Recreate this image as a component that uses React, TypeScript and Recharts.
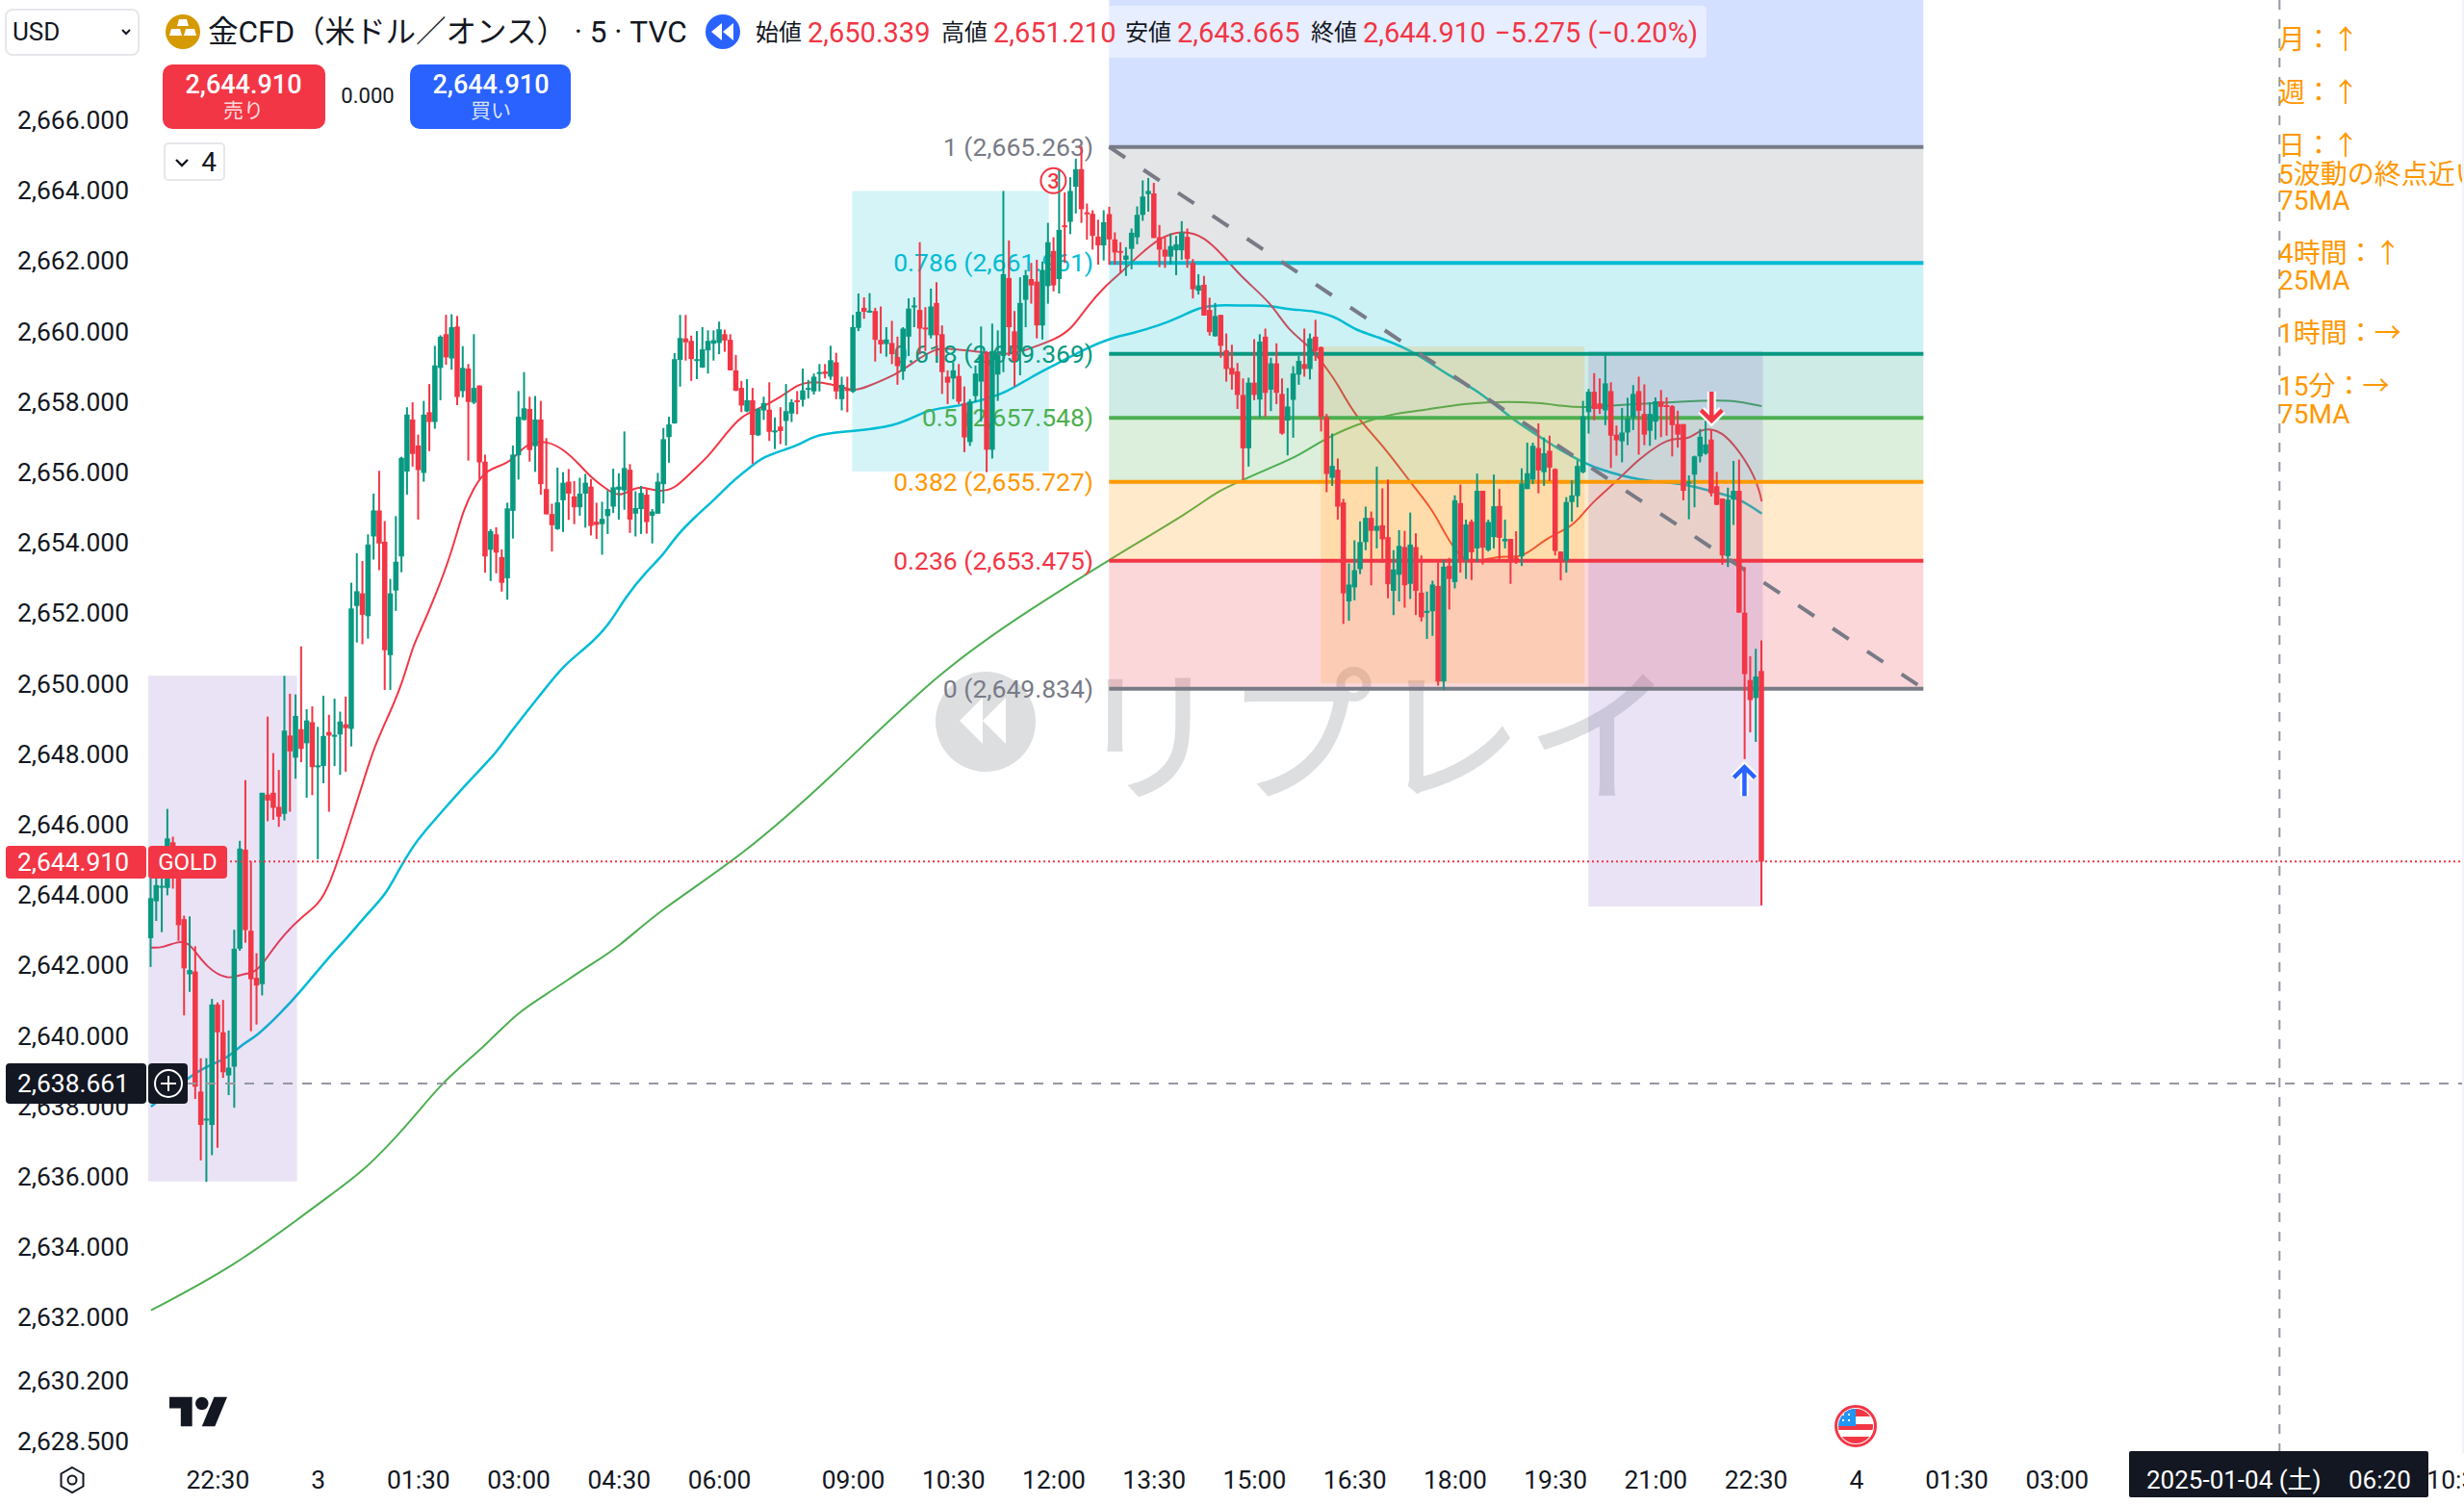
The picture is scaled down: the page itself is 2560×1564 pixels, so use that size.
import React from "react";
import {
  Bar,
  ComposedChart,
  Line,
  ReferenceArea,
  ReferenceDot,
  ReferenceLine,
  XAxis,
  YAxis,
} from "recharts";

const UP = "#089981";
const DOWN = "#F23645";
const INK = "#131722";
const FONT = 'Roboto, "Noto Sans CJK JP", sans-serif';

const opens = [
  2642.73, 2643.78, 2644.18, 2644.16, 2645.46, 2644.7, 2643.27, 2641.7, 2641.78, 2638.36,
  2637.55, 2637.41, 2640.84, 2640.05, 2638.82, 2639.07, 2642.43, 2645.25, 2642.94, 2641.6,
  2641.42, 2646.82, 2646.87, 2646.47, 2646.27, 2648.5, 2647.87, 2648.68, 2648.28, 2648.88,
  2647.6, 2647.63, 2648.6, 2648.5, 2648.53, 2648.82, 2648.69, 2652.19, 2652.55, 2651.9,
  2654.17, 2654.91, 2654.02, 2650.79, 2652.63, 2653.6, 2656.02, 2657.5, 2656.76, 2655.98,
  2657.71, 2657.43, 2658.97, 2659.93, 2659.24, 2660.15, 2658.31, 2658.95, 2657.98, 2658.47,
  2656.3, 2653.79, 2654.23, 2653.58, 2652.98, 2654.9, 2656.48, 2657.49, 2657.8, 2656.74,
  2657.5, 2655.52, 2654.81, 2654.38, 2655.2, 2655.73, 2655.31, 2655.0, 2655.39, 2655.59,
  2654.59, 2654.52, 2654.75, 2655.02, 2655.5, 2655.48, 2656.07, 2654.82, 2654.95, 2655.36,
  2654.76, 2654.82, 2655.66, 2657.0, 2657.39, 2659.2, 2659.81, 2659.74, 2659.2, 2658.98,
  2659.47, 2659.66, 2659.68, 2659.93, 2659.77, 2658.9, 2658.4, 2657.73, 2658.05, 2657.05,
  2657.76, 2657.78, 2657.17, 2657.3, 2657.46, 2657.67, 2658.05, 2658.06, 2658.38, 2658.3,
  2658.8, 2658.87, 2658.72, 2659.13, 2658.08, 2658.37, 2658.29, 2660.11, 2660.68, 2660.58,
  2660.59, 2659.77, 2659.65, 2659.68, 2659.28, 2658.87, 2659.86, 2660.73, 2660.62, 2660.12,
  2659.9, 2660.82, 2659.93, 2658.72, 2658.67, 2658.74, 2657.96, 2656.86, 2658.17, 2658.58,
  2659.4, 2656.64, 2658.78, 2659.31, 2661.53, 2660.01, 2659.45, 2660.91, 2661.5, 2661.43,
  2660.18, 2661.3, 2662.3, 2661.5, 2663.03, 2663.13, 2664.13, 2664.63, 2663.4, 2663.36,
  2662.71, 2662.46, 2663.35, 2662.63, 2662.3, 2662.05, 2662.36, 2662.69, 2663.33, 2663.92,
  2663.94, 2662.69, 2662.34, 2662.14, 2662.32, 2662.32, 2662.7, 2661.96, 2661.17, 2661.34,
  2660.62, 2659.87, 2660.48, 2659.47, 2658.97, 2658.87, 2658.2, 2656.68, 2658.55, 2658.07,
  2659.86, 2658.35, 2659.1, 2658.23, 2657.47, 2658.06, 2658.78, 2659.08, 2658.94, 2659.86,
  2659.56, 2657.57, 2655.84, 2656.07, 2655.14, 2652.32, 2652.72, 2653.24, 2654.01, 2654.7,
  2654.33, 2654.49, 2654.15, 2652.62, 2653.08, 2653.87, 2652.82, 2653.87, 2652.57, 2652.03,
  2652.04, 2652.76, 2650.04, 2653.33, 2652.87, 2655.12, 2653.51, 2654.59, 2653.83, 2655.47,
  2653.78, 2654.15, 2655.04, 2654.03, 2654.1, 2653.57, 2653.6, 2655.52, 2655.79, 2656.69,
  2656.0, 2656.61, 2656.09, 2653.74, 2653.48, 2655.15, 2655.32, 2656.0, 2657.71, 2658.29,
  2657.96, 2657.76, 2658.31, 2657.07, 2656.88, 2657.13, 2657.56, 2658.31, 2657.66, 2657.18,
  2657.44, 2658.02, 2657.91, 2657.88, 2657.37, 2657.37, 2655.71, 2655.93, 2656.45, 2656.53,
  2656.93, 2655.6, 2655.25, 2653.61, 2655.22, 2655.47, 2652.0, 2650.08, 2649.57, 2650.339,
];

const highs = [
  2644.6, 2644.6, 2645.2, 2646.41, 2645.62, 2644.9, 2643.37, 2643.35, 2642.5, 2639.31,
  2639.31, 2641, 2640.9, 2640.97, 2640.1, 2642.97, 2645.5, 2647.23, 2644.92, 2642.3,
  2646.87, 2649.04, 2648, 2647.52, 2650.2, 2649.69, 2649.67, 2651.04, 2649.25, 2649.33,
  2648.75, 2649.63, 2649.09, 2649.55, 2649.18, 2649.61, 2652.85, 2653.69, 2653.47, 2654.23,
  2655.39, 2656.04, 2654.61, 2652.96, 2654.75, 2656.44, 2657.85, 2657.99, 2657.07, 2658.03,
  2658.51, 2659.6, 2659.9, 2660.48, 2660.5, 2660.45, 2659.59, 2659.08, 2659.93, 2658.47,
  2656.5, 2654.38, 2654.43, 2653.8, 2655.13, 2656.76, 2658.31, 2658.85, 2658.15, 2658.17,
  2658.03, 2656.97, 2655.1, 2656.13, 2656, 2656.09, 2655.75, 2655.84, 2655.95, 2655.8,
  2655.13, 2655.16, 2655.48, 2656.1, 2655.97, 2657.16, 2656.23, 2655.46, 2655.61, 2655.52,
  2654.95, 2655.98, 2657.26, 2657.58, 2659.39, 2660.48, 2660.48, 2659.89, 2660.02, 2660.13,
  2660.04, 2660.04, 2660.29, 2660.06, 2659.93, 2659.34, 2658.6, 2658.65, 2658.4, 2657.83,
  2658.15, 2658.56, 2657.56, 2657.85, 2658.51, 2658.08, 2658.31, 2658.95, 2658.63, 2658.81,
  2659.08, 2659.08, 2659.6, 2659.4, 2658.72, 2658.72, 2660.48, 2661.09, 2660.98, 2661.1,
  2660.68, 2660.72, 2660.13, 2660.31, 2659.86, 2660.13, 2660.95, 2660.98, 2662.55, 2660.7,
  2661.23, 2661.41, 2660.18, 2658.9, 2659.13, 2659.08, 2658.44, 2658.08, 2659.04, 2660.15,
  2659.45, 2660.23, 2660.04, 2664.01, 2662.6, 2660.59, 2661.55, 2661.76, 2661.96, 2662.05,
  2662, 2663.1, 2662.69, 2664.6, 2663.97, 2664.4, 2664.93, 2665.29, 2663.65, 2663.46,
  2663.19, 2663.46, 2663.56, 2662.83, 2662.55, 2662.41, 2662.94, 2663.57, 2664.31, 2664.38,
  2664.24, 2663.04, 2662.69, 2662.8, 2662.73, 2663.15, 2662.94, 2662.07, 2661.64, 2661.59,
  2660.97, 2660.82, 2660.48, 2659.95, 2659.63, 2659.11, 2658.67, 2658.69, 2659.79, 2659.93,
  2660.09, 2659.26, 2659.67, 2658.67, 2658.4, 2659.02, 2659.31, 2660.09, 2659.95, 2660.34,
  2659.58, 2657.66, 2657.1, 2656.39, 2655.24, 2653.4, 2654.06, 2654.6, 2655.02, 2654.88,
  2656.16, 2655.54, 2655.79, 2653.78, 2654.35, 2654.33, 2654.85, 2654.26, 2653.63, 2652.6,
  2652.91, 2653.42, 2653.51, 2653.56, 2655.34, 2655.65, 2654.65, 2654.65, 2655.96, 2655.47,
  2654.65, 2655.93, 2655.52, 2654.65, 2654.1, 2654.32, 2656.11, 2656.84, 2656.84, 2657.39,
  2656.99, 2657.04, 2656.11, 2653.74, 2655.29, 2655.77, 2656.34, 2658.03, 2658.37, 2658.82,
  2658.67, 2659.33, 2658.56, 2657.33, 2657.83, 2658.12, 2658.48, 2658.72, 2658.5, 2657.99,
  2658.13, 2658.34, 2658.13, 2657.91, 2657.75, 2657.37, 2655.91, 2656.47, 2657.23, 2657.47,
  2657.2, 2656.01, 2655.25, 2655.56, 2656.32, 2656.36, 2653.3, 2650.76, 2650.97, 2651.21,
];

const lows = [
  2641.91, 2643.22, 2642.9, 2643.95, 2644.14, 2642.65, 2640.53, 2641.2, 2638.15, 2636.4,
  2635.79, 2636.55, 2636.76, 2638.75, 2638.26, 2637.9, 2642.37, 2642.6, 2640.08, 2640.27,
  2641.1, 2646.06, 2646.1, 2645.9, 2646.08, 2646.33, 2647.27, 2647.74, 2646.73, 2646.8,
  2644.98, 2647.14, 2646.33, 2647.63, 2647.38, 2647.47, 2648.19, 2651.15, 2651.1, 2651.26,
  2653.51, 2653.21, 2649.8, 2649.8, 2652.05, 2653.15, 2655.36, 2656.16, 2654.65, 2655.73,
  2656.6, 2657.24, 2658.05, 2659.06, 2658.92, 2657.91, 2658.13, 2656.33, 2657.94, 2655.8,
  2653.14, 2652.9, 2653.12, 2652.6, 2652.37, 2654.11, 2655.79, 2657.47, 2656.3, 2656.01,
  2655.36, 2654.8, 2653.74, 2654.36, 2654.3, 2654.64, 2654.52, 2654.76, 2654.42, 2654.2,
  2654.1, 2653.65, 2654.24, 2654.84, 2654.65, 2654.93, 2654.27, 2654.17, 2654.24, 2654.25,
  2653.97, 2654.82, 2655.11, 2656.27, 2657.38, 2658.44, 2659.18, 2658.6, 2658.65, 2658.97,
  2658.81, 2659.18, 2659.36, 2659.43, 2658.9, 2658.31, 2657.71, 2657.71, 2656.24, 2657.03,
  2657.49, 2656.89, 2656.66, 2656.8, 2656.76, 2657.43, 2657.65, 2657.87, 2658.1, 2658.21,
  2658.3, 2658.67, 2658.63, 2658.08, 2657.76, 2657.71, 2658.26, 2660.02, 2660.37, 2660.54,
  2659.15, 2659.38, 2659.29, 2659.08, 2658.49, 2658.63, 2659.31, 2660.13, 2659.36, 2659.45,
  2659.81, 2659.31, 2658.23, 2657.94, 2658.08, 2657.94, 2656.57, 2656.75, 2657.99, 2657.44,
  2656, 2656.39, 2658.03, 2658.85, 2659.31, 2658.44, 2658.76, 2660.13, 2660.8, 2659.81,
  2659.78, 2660.8, 2661.15, 2661.09, 2661.96, 2662.78, 2663.37, 2663.1, 2662.62, 2662.34,
  2661.91, 2662.03, 2661.91, 2661.91, 2661.68, 2661.59, 2661.78, 2662.49, 2663.16, 2663.42,
  2662.67, 2661.84, 2661.82, 2661.91, 2661.61, 2662.05, 2661.82, 2660.95, 2661.06, 2660.46,
  2659.89, 2659.86, 2659.26, 2658.58, 2658.35, 2657.8, 2655.79, 2656.16, 2658.05, 2657.56,
  2657.58, 2657.74, 2657.94, 2657.07, 2656.48, 2656.98, 2658.49, 2658.72, 2658.64, 2659.17,
  2657.16, 2655.43, 2655.61, 2654.65, 2651.68, 2651.77, 2652.35, 2653.1, 2653.78, 2652.78,
  2653.83, 2653.42, 2652.41, 2651.93, 2652.32, 2652.14, 2652.39, 2651.93, 2651.75, 2651.25,
  2651.34, 2649.92, 2649.8, 2652.09, 2652.69, 2653.14, 2652.96, 2652.93, 2653.44, 2653.37,
  2653.74, 2653.83, 2653.51, 2653.83, 2652.82, 2653.39, 2653.33, 2655.52, 2655.66, 2655.4,
  2655.61, 2655.75, 2653.63, 2652.92, 2653.14, 2654.59, 2655, 2655.97, 2657.1, 2657.48,
  2657.66, 2657.34, 2656.12, 2656.47, 2656.28, 2656.77, 2657.2, 2656.5, 2656.77, 2656.75,
  2656.93, 2657, 2657.04, 2656.45, 2656.7, 2655.2, 2654.66, 2655, 2656.28, 2656.5,
  2655.31, 2655.06, 2653.36, 2653.3, 2654.5, 2652, 2647.83, 2648.59, 2648.32, 2643.665,
];

const closes = [
  2643.87, 2644.24, 2644.22, 2645.57, 2644.7, 2643.1, 2641.87, 2641.82, 2638.5, 2637.41,
  2637.59, 2640.84, 2640.05, 2638.91, 2639.04, 2642.43, 2645.28, 2642.96, 2641.56, 2641.38,
  2646.87, 2646.65, 2646.44, 2646.19, 2648.64, 2648.05, 2649.06, 2648.12, 2648.93, 2647.6,
  2647.65, 2648.49, 2648.5, 2648.52, 2648.9, 2648.71, 2652.12, 2652.61, 2651.94, 2653.94,
  2654.91, 2653.97, 2650.93, 2652.55, 2653.45, 2656.41, 2657.64, 2656.52, 2656.06, 2657.64,
  2657.43, 2659.04, 2659.86, 2659.27, 2660.13, 2658.14, 2658.97, 2658, 2658.4, 2656.28,
  2653.6, 2654.32, 2653.71, 2652.85, 2654.97, 2656.5, 2657.58, 2657.82, 2656.63, 2657.5,
  2655.66, 2654.8, 2654.49, 2655.14, 2655.7, 2655.39, 2655, 2655.39, 2655.7, 2654.47,
  2654.5, 2654.67, 2654.95, 2655.57, 2655.59, 2656.12, 2654.65, 2654.98, 2655.41, 2654.58,
  2654.88, 2655.73, 2656.94, 2657.36, 2659.22, 2659.82, 2659.7, 2659.22, 2659.22, 2659.5,
  2659.74, 2659.76, 2660.07, 2659.75, 2658.9, 2658.32, 2657.9, 2658.05, 2657.06, 2657.8,
  2657.97, 2657.15, 2657.19, 2657.17, 2657.74, 2657.99, 2658, 2658.33, 2658.4, 2658.72,
  2658.85, 2658.8, 2659.19, 2658.3, 2658.49, 2658.35, 2660.13, 2660.57, 2660.57, 2660.6,
  2659.77, 2659.64, 2659.78, 2659.36, 2659.02, 2660.09, 2660.66, 2660.75, 2660.09, 2660.1,
  2660.72, 2659.9, 2658.85, 2658.55, 2658.9, 2658.01, 2656.99, 2658.01, 2658.81, 2659.35,
  2656.64, 2659.45, 2659.35, 2661.64, 2660.13, 2659.17, 2660.82, 2661.61, 2661.32, 2660.18,
  2661.76, 2662.55, 2661.32, 2662.9, 2662.98, 2664.01, 2664.63, 2663.49, 2663.36, 2662.73,
  2662.46, 2663.12, 2662.63, 2662.26, 2662.26, 2662.17, 2662.82, 2663.33, 2663.85, 2664.01,
  2662.67, 2662.34, 2662.14, 2662.44, 2662.49, 2662.82, 2662.07, 2661.21, 2661.32, 2660.46,
  2659.99, 2660.45, 2659.6, 2658.94, 2658.78, 2658.2, 2656.68, 2658.55, 2658.2, 2659.72,
  2658.26, 2659.1, 2658.26, 2657.1, 2657.87, 2658.81, 2659.17, 2658.94, 2659.81, 2659.45,
  2657.58, 2655.95, 2656.18, 2655.02, 2652.55, 2652.8, 2653.21, 2654.01, 2654.7, 2654.33,
  2654.47, 2654.09, 2652.81, 2653.23, 2653.9, 2652.78, 2653.94, 2652.62, 2651.87, 2652.05,
  2652.8, 2650.04, 2653.31, 2652.96, 2655.2, 2653.51, 2654.51, 2653.72, 2655.47, 2653.85,
  2654.58, 2655.03, 2654.13, 2654.1, 2653.51, 2653.51, 2655.68, 2655.97, 2656.75, 2656.05,
  2656.54, 2656.13, 2653.76, 2653.48, 2655.15, 2655.34, 2656.18, 2657.59, 2658.29, 2657.8,
  2657.8, 2658.53, 2657.04, 2656.91, 2657.13, 2657.53, 2658.23, 2657.75, 2657.07, 2657.66,
  2658.02, 2657.86, 2657.86, 2657.34, 2657.07, 2655.47, 2655.73, 2656.45, 2657.01, 2656.79,
  2655.4, 2655.07, 2653.63, 2655.22, 2655.47, 2652, 2650.25, 2649.51, 2650.18, 2644.91,
];

const maRed = [
  [0, 2642.46], [2, 2642.45], [5, 2642.65], [7, 2642.6], [10, 2641.86], [14, 2641.54], [16, 2641.7], [19, 2641.75],
  [21, 2642.23], [24, 2642.86], [27, 2643.33], [30, 2643.68], [32, 2644.22], [35, 2645.63], [38, 2647.14], [40, 2648.17],
  [43, 2649.2], [45, 2649.96], [47, 2651.04], [48, 2651.37], [51, 2652.46], [54, 2653.74], [56, 2654.93], [58, 2655.57],
  [60, 2656.07], [64, 2656.23], [66, 2656.57], [68, 2656.85], [71, 2656.89], [74, 2656.66], [77, 2656.2], [79, 2655.84],
  [82, 2655.48], [84, 2655.31], [86, 2655.48], [88, 2655.61], [91, 2655.43], [94, 2655.52], [97, 2656.02], [100, 2656.44],
  [103, 2657.07], [106, 2657.62], [109, 2657.8], [113, 2658.14], [116, 2658.49], [118, 2658.58], [122, 2658.53], [126, 2658.3],
  [128, 2658.4], [134, 2658.81], [136, 2659.04], [141, 2659.58], [144, 2659.49], [147, 2659.47], [152, 2659.35], [155, 2659.38],
  [158, 2659.54], [162, 2659.77], [165, 2660.04], [168, 2660.73], [171, 2661.27], [174, 2661.68], [177, 2662.14], [181, 2662.69],
  [185, 2662.89], [189, 2662.73], [193, 2662.05], [196, 2661.5], [201, 2660.82], [204, 2660.04], [208, 2659.58], [211, 2658.94],
  [213, 2658.49], [216, 2657.6], [221, 2656.78], [226, 2655.7], [230, 2654.92], [232, 2654.29], [234, 2653.78], [236, 2653.46],
  [239, 2653.48], [242, 2653.62], [245, 2653.57], [247, 2653.69], [250, 2654.06], [252, 2654.24], [255, 2654.47], [257, 2654.83],
  [259, 2655.2], [263, 2655.74], [267, 2656.39], [271, 2656.83], [273, 2656.97], [276, 2656.93], [278, 2657.23], [281, 2657.23],
  [284, 2656.83], [288, 2655.85], [289, 2655.17],
];

const maCyan = [
  [0, 2637.93], [8, 2638.91], [10, 2639.07], [14, 2639.34], [16, 2639.67], [19, 2639.94], [23, 2640.55], [27, 2641.24],
  [32, 2642.21], [35, 2642.7], [39, 2643.46], [42, 2643.95], [44, 2644.54], [47, 2645.36], [49, 2645.75], [52, 2646.3],
  [57, 2647.2], [62, 2648.01], [64, 2648.5], [70, 2649.69], [74, 2650.5], [78, 2650.99], [82, 2651.6], [85, 2652.42],
  [89, 2653.2], [92, 2653.65], [94, 2654.15], [98, 2654.79], [101, 2655.2], [104, 2655.7], [108, 2656.21], [110, 2656.44],
  [114, 2656.66], [116, 2656.76], [119, 2657.04], [123, 2657.14], [134, 2657.28], [139, 2657.79], [144, 2657.85], [149, 2658.05],
  [153, 2658.23], [158, 2658.72], [162, 2659.04], [168, 2659.54], [172, 2659.81], [176, 2659.95], [181, 2660.18], [185, 2660.45],
  [188, 2660.68], [191, 2660.77], [197, 2660.74], [201, 2660.75], [204, 2660.63], [209, 2660.6], [213, 2660.4], [216, 2660.04],
  [221, 2659.81], [227, 2659.4], [233, 2658.72], [238, 2658.35], [244, 2657.53], [249, 2657.03], [253, 2656.61], [257, 2656.28],
  [260, 2656.07], [267, 2655.76], [274, 2655.69], [277, 2655.58], [281, 2655.42], [285, 2655.25], [289, 2654.82],
];

const maGreen = [
  [0, 2632.13], [15, 2633.39], [28, 2634.92], [32, 2635.39], [38, 2636.09], [43, 2636.9], [47, 2637.6], [52, 2638.58],
  [58, 2639.4], [62, 2640.0], [66, 2640.64], [72, 2641.24], [78, 2641.89], [84, 2642.48], [91, 2643.5], [106, 2645.06],
  [122, 2647.3], [142, 2650.43], [159, 2652.22], [172, 2653.52], [187, 2654.93], [191, 2655.43], [196, 2655.79], [202, 2656.2],
  [206, 2656.48], [210, 2656.89], [214, 2657.21], [219, 2657.5], [223, 2657.67], [229, 2657.78], [235, 2657.94], [240, 2657.99],
  [243, 2658.01], [249, 2657.98], [253, 2657.89], [257, 2657.83], [263, 2657.91], [271, 2657.98], [276, 2658.02], [281, 2658.05],
  [285, 2658.02], [289, 2657.88],
];

const priceTicks = [
  2666, 2664, 2662, 2660, 2658, 2656, 2654, 2652, 2650, 2648, 2646, 2644, 2642, 2640, 2638, 2636, 2634, 2632, 2630.2, 2628.5,
];
const timeTickBars = [12, 30, 48, 66, 84, 102, 126, 144, 162, 180, 198, 216, 234, 252, 270, 288, 306, 324, 342, 414];
const timeTickLabels = [
  "22:30", "3", "01:30", "03:00", "04:30", "06:00", "09:00", "10:30", "12:00", "13:30",
  "15:00", "16:30", "18:00", "19:30", "21:00", "22:30", "4", "01:30", "03:00", "10:30",
];

const fibLevels = [
  { label: "1 (2,665.263)", price: 2665.263, color: "#787B86" },
  { label: "0.786 (2,661.961)", price: 2661.961, color: "#00BCD4" },
  { label: "0.618 (2,659.369)", price: 2659.369, color: "#089981" },
  { label: "0.5 (2,657.548)", price: 2657.548, color: "#4CAF50" },
  { label: "0.382 (2,655.727)", price: 2655.727, color: "#FF9800" },
  { label: "0.236 (2,653.475)", price: 2653.475, color: "#F23645" },
  { label: "0 (2,649.834)", price: 2649.834, color: "#787B86" },
];
const fibFrom = 171.9;
const fibTo = 318;
const fibAbove = 2669.448;

const boxes = [
  { x1: -0.5, x2: 26.2, y1: 2650.2, y2: 2635.8, fill: "#7E57C2" },
  { x1: 125.8, x2: 161.1, y1: 2664.01, y2: 2656.02, fill: "#00BCD4" },
  { x1: 209.9, x2: 257.2, y1: 2659.58, y2: 2649.98, fill: "#FF9800" },
  { x1: 257.9, x2: 289.2, y1: 2659.45, y2: 2643.63, fill: "#7E57C2" },
];

const lastPrice = 2644.91;
const crossPrice = 2638.59;
const crossBar = 381.9;

const noteLines = [
  { text: "月：↑", y: 42 },
  { text: "週：↑", y: 97 },
  { text: "日：↑", y: 152 },
  { text: "5波動の終点近い", y: 182 },
  { text: "75MA", y: 209 },
  { text: "4時間：↑", y: 264 },
  { text: "25MA", y: 292 },
  { text: "1時間：→", y: 347 },
  { text: "15分：→", y: 402 },
  { text: "75MA", y: 431 },
];

const ohlcText = [
  { text: "始値", x: 785, color: INK, size: 24 },
  { text: "2,650.339", x: 839, color: DOWN, size: 29 },
  { text: "高値", x: 978, color: INK, size: 24 },
  { text: "2,651.210", x: 1032, color: DOWN, size: 29 },
  { text: "安値", x: 1169, color: INK, size: 24 },
  { text: "2,643.665", x: 1223, color: DOWN, size: 29 },
  { text: "終値", x: 1362, color: INK, size: 24 },
  { text: "2,644.910", x: 1416, color: DOWN, size: 29 },
  { text: "−5.275 (−0.20%)", x: 1553, color: DOWN, size: 29 },
];

const rows = opens.map((open, i) => ({
  i,
  open,
  high: highs[i],
  low: lows[i],
  close: closes[i],
  range: [lows[i], highs[i]],
  red: null as number | null,
  cyan: null as number | null,
  green: null as number | null,
}));
maRed.forEach(([i, v]) => (rows[i].red = v));
maCyan.forEach(([i, v]) => (rows[i].cyan = v));
maGreen.forEach(([i, v]) => (rows[i].green = v));

const Candle = (props: any) => {
  const { x, y, width, height, payload } = props;
  const { open, high, low, close } = payload;
  const perUnit = height / Math.max(high - low, 0.001);
  const top = y + (high - Math.max(open, close)) * perUnit;
  const bodyH = Math.max(Math.abs(close - open) * perUnit, 2);
  const color = close >= open ? UP : DOWN;
  const cx = x + width / 2;
  return (
    <g>
      <rect x={cx - 1} y={y} width={2} height={Math.max(height, 2)} fill={color} />
      <rect x={cx - 2.75} y={top} width={5.5} height={bodyH} fill={color} />
    </g>
  );
};

const PriceTick = ({ y, payload }: any) => (
  // the printed scale runs a hair wider than the one the bars were read on
  <text x={18} y={y + 10 + (2649.8 - payload.value) * 0.115} fontSize={26.4} fontFamily={FONT} fill={INK}>
    {payload.value.toLocaleString("en-US", { minimumFractionDigits: 3, maximumFractionDigits: 3 })}
  </text>
);

const TimeTick = ({ x, y, payload }: any) => (
  <text x={x} y={y + 29} fontSize={26.4} textAnchor="middle" fontFamily={FONT} fill={INK}>
    {timeTickLabels[timeTickBars.indexOf(payload.value)]}
  </text>
);

const FibLabel = ({ cx, cy, text, color }: any) => (
  <text x={cx} y={cy + 9} fontSize={26.5} textAnchor="end" fontFamily={FONT} fill={color}>
    {text}
  </text>
);

const WaveMark = ({ cx, cy }: any) => (
  <g>
    <circle cx={cx} cy={cy} r={13} fill="none" stroke={DOWN} strokeWidth={2} />
    <text x={cx} y={cy + 8} fontSize={22} fontWeight={500} textAnchor="middle" fontFamily={FONT} fill={DOWN}>
      3
    </text>
  </g>
);

const Arrow = ({ cx, cy, up, color }: any) => {
  const s = up ? -1 : 1;
  const d = `M${cx} ${cy + 15 * s} L${cx} ${cy - 15 * s} M${cx - 11} ${cy + 4 * s} L${cx} ${cy + 15 * s} L${cx + 11} ${cy + 4 * s}`;
  return (
    <g fill="none">
      <path d={d} stroke="#fff" strokeWidth={9} />
      <path d={d} stroke={color} strokeWidth={4.5} />
    </g>
  );
};

const Txt = ({ x, y, size = 26, color = INK, children, weight = 400, anchor }: any) => (
  <div
    style={{
      position: "absolute",
      left: anchor === "middle" ? x - 300 : x,
      width: anchor === "middle" ? 600 : undefined,
      top: y - size,
      height: size * 2,
      lineHeight: `${size * 2}px`,
      fontSize: size,
      fontWeight: weight,
      color,
      whiteSpace: "nowrap",
      textAlign: anchor === "middle" ? "center" : "left",
    }}
  >
    {children}
  </div>
);

const Box = ({ x, y, w, h, bg, radius = 8, border }: any) => (
  <div
    style={{
      position: "absolute",
      left: x,
      top: y,
      width: w,
      height: h,
      background: bg,
      borderRadius: radius,
      border,
      boxSizing: "border-box",
    }}
  />
);

const Icons = () => (
  <svg width={2560} height={1564} style={{ position: "absolute", left: 0, top: 0, pointerEvents: "none" }}>
    {/* dropdown chevrons */}
    <path d="M127 31l4 4 4-4" fill="none" stroke={INK} strokeWidth={2} />
    <path d="M183 166l6 6 6-6" fill="none" stroke={INK} strokeWidth={2.4} />
    {/* gold symbol */}
    <circle cx={190} cy={33} r={18} fill="#D49A00" />
    <path d="M186 20h8l2 7h-12zM176 37l2-7h9l2 7zM191 37l2-7h9l2 7z" fill="#fff" />
    {/* replay badge */}
    <circle cx={751} cy={33} r={18} fill="#2962FF" />
    <path d="M750 24v18l-11-9zM762 24v18l-11-9z" fill="#fff" />
    {/* crosshair plus */}
    <circle cx={175} cy={1126} r={14} fill="none" stroke="#fff" strokeWidth={2} />
    <path d="M175 1118v16M167 1126h16" stroke="#fff" strokeWidth={2} />
    {/* TradingView logo */}
    <g transform="translate(176 1445) scale(1.69)" fill="#131722">
      <path d="M14 22H7V11H0V4h14v18zM28 22h-8l7.5-18h8L28 22z" />
      <circle cx={20} cy={8} r={4} />
    </g>
    {/* settings */}
    <path d="M75 1525l11.5 6.5v13L75 1551l-11.5-6.5v-13z" fill="none" stroke={INK} strokeWidth={2} />
    <circle cx={75} cy={1538} r={4.5} fill="none" stroke={INK} strokeWidth={2} />
    {/* economic event flag */}
    <defs>
      <clipPath id="flag">
        <circle cx={1928} cy={1482} r={18} />
      </clipPath>
    </defs>
    <circle cx={1928} cy={1482} r={20.5} fill="#fff" stroke={DOWN} strokeWidth={3} />
    <g clipPath="url(#flag)">
      <rect x={1908} y={1464} width={40} height={8} fill={DOWN} />
      <rect x={1908} y={1480} width={40} height={6} fill={DOWN} />
      <rect x={1908} y={1493} width={40} height={10} fill={DOWN} />
      <rect x={1908} y={1464} width={20} height={18} fill="#2196F3" />
      <path d="M1914 1470h2M1920 1470h2M1914 1476h2M1920 1476h2" stroke="#fff" strokeWidth={2} />
    </g>
  </svg>
);

export default function App() {
  return (
    <div
      style={{
        position: "absolute",
        left: 0,
        top: 0,
        width: 2560,
        height: 1564,
        overflow: "hidden",
        background: "#fff",
        fontFamily: FONT,
      }}
    >
      {/* replay watermark sits behind the chart */}
      <svg width={2560} height={1564} style={{ position: "absolute", left: 0, top: 0 }}>
        <circle cx={1024} cy={750} r={52} fill="#DCDEE0" />
        <path d="M1021 725v48l-24-24zM1045 725v48l-24-24z" fill="#fff" />
      </svg>
      <div
        style={{
          position: "absolute",
          left: 1118,
          top: 640,
          fontSize: 152,
          fontWeight: 400,
          letterSpacing: 4,
          lineHeight: "230px",
          color: "#DCDEE0",
          WebkitTextStroke: "2px #DCDEE0",
          fontFamily: '"Noto Sans CJK JP", sans-serif',
          whiteSpace: "nowrap",
        }}
      >
        リプレイ
      </div>

      <div style={{ position: "absolute", left: 0, top: 0 }}>
        <ComposedChart width={2560} height={1564} data={rows} margin={{ top: 0, right: 0, bottom: 0, left: 0 }}>
          <XAxis
            dataKey="i"
            type="number"
            domain={[-0.5, 415]}
            ticks={timeTickBars}
            interval={0}
            allowDataOverflow
            axisLine={false}
            tickLine={false}
            height={54}
            tick={<TimeTick />}
          />
          <YAxis
            type="number"
            domain={[2628.066, 2669.448]}
            ticks={priceTicks}
            interval={0}
            allowDataOverflow
            axisLine={false}
            tickLine={false}
            width={154}
            tick={<PriceTick />}
          />

          <Line zIndex={10} dataKey="green" type="basis" connectNulls stroke="#4CAF50" strokeWidth={2} dot={false} isAnimationActive={false} />
          <Line zIndex={10} dataKey="cyan" type="basis" connectNulls stroke="#00BCD4" strokeWidth={2.5} dot={false} isAnimationActive={false} />
          <Line zIndex={10} dataKey="red" type="basis" connectNulls stroke={DOWN} strokeWidth={2} dot={false} isAnimationActive={false} />

          <ReferenceArea zIndex={20} x1={fibFrom} x2={fibTo} y1={fibLevels[0].price} y2={fibAbove} fill="#2962FF" fillOpacity={0.2} stroke="none" ifOverflow="visible" />
          {fibLevels.slice(0, -1).map((lvl, k) => (
            <ReferenceArea
              key={lvl.label}
              zIndex={20}
              x1={fibFrom}
              x2={fibTo}
              y1={lvl.price}
              y2={fibLevels[k + 1].price}
              fill={lvl.color}
              fillOpacity={0.2}
              stroke="none"
              ifOverflow="visible"
            />
          ))}
          {boxes.map((b) => (
            <ReferenceArea key={b.x1} zIndex={21} x1={b.x1} x2={b.x2} y1={b.y1} y2={b.y2} fill={b.fill} fillOpacity={0.17} stroke="none" ifOverflow="visible" />
          ))}

          {fibLevels.map((lvl) => (
            <ReferenceDot
              key={`label-${lvl.label}`}
              zIndex={22}
              x={169.1}
              y={lvl.price}
              ifOverflow="visible"
              shape={<FibLabel text={lvl.label} color={lvl.color} />}
            />
          ))}
          {fibLevels.map((lvl) => (
            <ReferenceLine
              key={`line-${lvl.label}`}
              zIndex={23}
              segment={[{ x: fibFrom, y: lvl.price }, { x: fibTo, y: lvl.price }]}
              stroke={lvl.color}
              strokeWidth={4}
              ifOverflow="visible"
            />
          ))}
          <ReferenceLine
            zIndex={23}
            segment={[{ x: fibFrom, y: 2665.263 }, { x: fibTo, y: 2649.834 }]}
            stroke="#787B86"
            strokeWidth={4}
            strokeDasharray="20 23"
            ifOverflow="visible"
          />

          <Bar zIndex={30} dataKey="range" barSize={5} shape={<Candle />} isAnimationActive={false} />

          <ReferenceLine zIndex={40} y={lastPrice} stroke={DOWN} strokeWidth={2} strokeDasharray="2 3" />
          <ReferenceLine zIndex={40} y={crossPrice} stroke="#9598A1" strokeWidth={2} strokeDasharray="10 10" />
          <ReferenceLine zIndex={40} x={crossBar} stroke="#9598A1" strokeWidth={2} strokeDasharray="10 10" />

          <ReferenceDot zIndex={41} x={161.9} y={2664.3} ifOverflow="visible" shape={<WaveMark />} />
          <ReferenceDot zIndex={41} x={280} y={2657.88} ifOverflow="visible" shape={<Arrow color={DOWN} />} />
          <ReferenceDot zIndex={41} x={285.9} y={2647.19} ifOverflow="visible" shape={<Arrow up color="#2962FF" />} />
        </ComposedChart>
      </div>

      {/* legend strip */}
      <Box x={1151} y={6} w={622} h={54} bg="rgba(255,255,255,0.45)" radius={4} />
      <Box x={5} y={9} w={140} h={49} bg="#fff" border="2px solid #E6E7EB" />
      <Txt x={13} y={33} size={26}>USD</Txt>
      <Txt x={216} y={33} size={31.5}>金CFD（米ドル／オンス） · 5 · TVC</Txt>
      {ohlcText.map((t) => (
        <Txt key={t.x} x={t.x} y={34} size={t.size} color={t.color}>
          {t.text}
        </Txt>
      ))}

      <Box x={169} y={67} w={169} h={67} bg={DOWN} radius={10} />
      <Txt x={253} y={88} size={27} color="#fff" anchor="middle" weight={500}>2,644.910</Txt>
      <Txt x={253} y={115} size={21} color="#FFD9DC" anchor="middle">売り</Txt>
      <Txt x={382} y={100} size={22} anchor="middle">0.000</Txt>
      <Box x={426} y={67} w={167} h={67} bg="#2962FF" radius={10} />
      <Txt x={510} y={88} size={27} color="#fff" anchor="middle" weight={500}>2,644.910</Txt>
      <Txt x={510} y={115} size={21} color="#D9E4FF" anchor="middle">買い</Txt>
      <Box x={170} y={148} w={64} h={40} bg="#fff" radius={5} border="2px solid #E6E7EB" />
      <Txt x={217} y={169} size={28} anchor="middle">4</Txt>

      {/* price labels on the left scale */}
      <Box x={6} y={879} w={146} h={34} bg={DOWN} radius={4} />
      <Box x={154} y={879} w={82} h={34} bg={DOWN} radius={4} />
      <Txt x={18} y={896} size={26.4} color="#fff">2,644.910</Txt>
      <Txt x={195} y={896} size={24} color="#fff" anchor="middle">GOLD</Txt>
      <Box x={6} y={1105} w={146} h={42} bg={INK} radius={4} />
      <Box x={154} y={1105} w={41} h={42} bg={INK} radius={4} />
      <Txt x={18} y={1126} size={26.4} color="#fff">2,638.661</Txt>

      {/* crosshair date */}
      <Box x={2212} y={1508} w={311} h={48} bg={INK} radius={2} />
      <Txt x={2230} y={1538} size={26} color="#fff">2025-01-04 (土)</Txt>
      <Txt x={2440} y={1538} size={26} color="#fff">06:20</Txt>

      {/* trader's notes on the right */}
      {noteLines.map((n, k) => (
        <Txt key={k} x={2367} y={n.y} size={28} color="#FF9800">
          {n.text}
        </Txt>
      ))}
      <Box x={2558} y={0} w={2} h={1510} bg="#F0F3FA" radius={0} />

      <Icons />
    </div>
  );
}
